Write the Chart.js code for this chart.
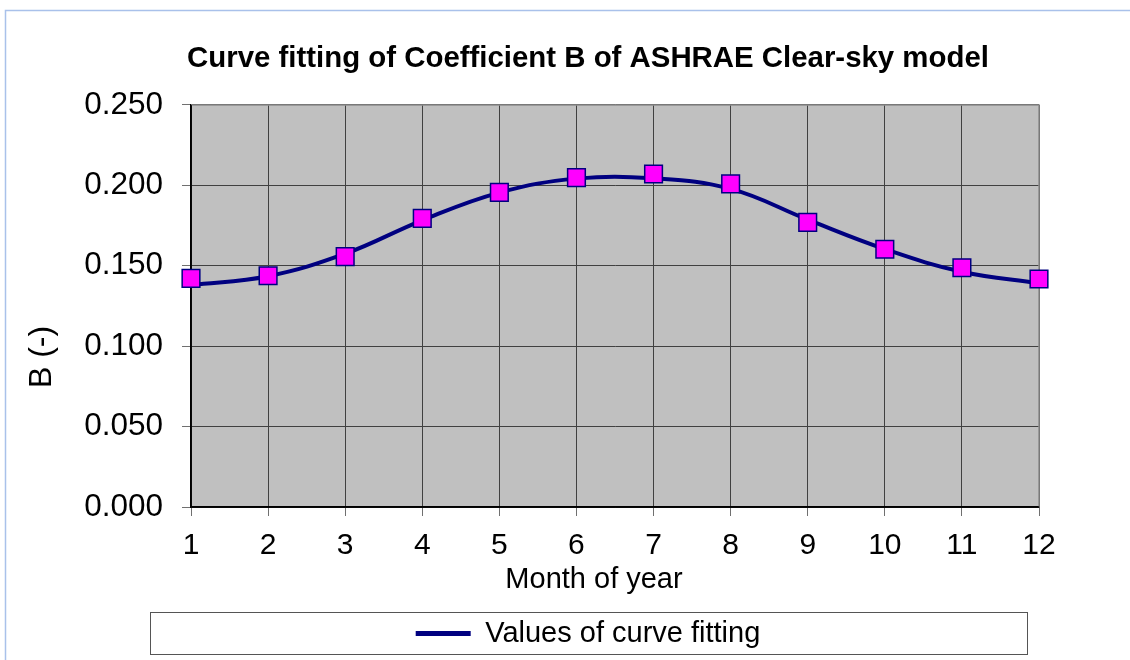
<!DOCTYPE html>
<html>
<head>
<meta charset="utf-8">
<script src="https://cdn.jsdelivr.net/npm/chart.js@4.4.1/dist/chart.umd.min.js"></script>
<style>
  html, body { margin: 0; padding: 0; background: #ffffff; }
  #wrap { width: 1130px; height: 660px; }
</style>
</head>
<body>
<div id="wrap"><canvas id="c" width="1130" height="660"></canvas></div>
<script>
// ---- data ----
const monthLabels = ['1', '2', '3', '4', '5', '6', '7', '8', '9', '10', '11', '12'];
const curveValues = [0.1380, 0.1435, 0.1575, 0.1783, 0.1955, 0.2042, 0.2044, 0.1978, 0.1787, 0.1604, 0.1463, 0.1391];
const markerValues = [0.1422, 0.1438, 0.1557, 0.1795, 0.1957, 0.2048, 0.2071, 0.2009, 0.1770, 0.1603, 0.1488, 0.1418];
const yTickValues = [0, 0.05, 0.10, 0.15, 0.20, 0.25];

const chartTitle = 'Curve fitting of Coefficient B of ASHRAE Clear-sky model';
const xAxisTitle = 'Month of year';
const yAxisTitle = 'B (-)';
const curveName = 'Values of curve fitting';
const markerName = 'Coefficient B';

const FONT = '"Liberation Sans", Arial, Helvetica, sans-serif';

const decorPlugin = {
  id: 'decor',
  beforeDraw(chart) {
    const ctx = chart.ctx;
    const a = chart.chartArea;
    ctx.save();
    ctx.fillStyle = '#ffffff';
    ctx.fillRect(0, 0, chart.width, chart.height);
    // outer chart border (light blue)
    ctx.strokeStyle = '#a9c1ea';
    ctx.lineWidth = 1.5;
    ctx.strokeRect(5.5, 10.5, chart.width + 20, chart.height + 20);
    // plot background
    ctx.fillStyle = '#c0c0c0';
    ctx.fillRect(a.left, a.top, a.right - a.left, a.bottom - a.top);
    ctx.restore();
  },
  beforeDatasetsDraw(chart) {
    const ctx = chart.ctx;
    const a = chart.chartArea;
    ctx.save();
    ctx.strokeStyle = '#8c8c8c';
    ctx.lineWidth = 1.5;
    ctx.beginPath();
    ctx.moveTo(a.left, a.top);
    ctx.lineTo(a.right, a.top);
    ctx.lineTo(a.right, a.bottom);
    ctx.stroke();
    ctx.strokeStyle = '#000000';
    ctx.lineWidth = 1.5;
    ctx.beginPath();
    ctx.moveTo(a.left, a.top);
    ctx.lineTo(a.left, a.bottom);
    ctx.lineTo(a.right, a.bottom);
    ctx.stroke();
    ctx.restore();
  },
  afterDraw(chart) {
    const ctx = chart.ctx;
    ctx.save();
    // legend frame
    ctx.strokeStyle = '#555555';
    ctx.lineWidth = 1;
    ctx.strokeRect(150.5, 612.5, 877, 42);
    // axis titles
    ctx.fillStyle = '#000000';
    ctx.textAlign = 'center';
    ctx.textBaseline = 'middle';
    ctx.font = '29px ' + FONT;
    ctx.fillText(xAxisTitle, 594, 580);
    ctx.translate(42, 357);
    ctx.rotate(-Math.PI / 2);
    ctx.font = '32px ' + FONT;
    ctx.fillText(yAxisTitle, 0, 0);
    ctx.restore();
  }
};

new Chart(document.getElementById('c'), {
  type: 'line',
  data: {
    labels: monthLabels,
    datasets: [
      {
        label: markerName,
        data: markerValues,
        showLine: false,
        pointStyle: 'rect',
        pointRadius: 12.5,
        pointHoverRadius: 12.5,
        pointBackgroundColor: '#ff00ff',
        pointBorderColor: '#000080',
        pointBorderWidth: 1.5,
        borderColor: '#000080',
        backgroundColor: '#ff00ff',
        clip: false,
        order: 0
      },
      {
        label: curveName,
        data: curveValues,
        borderColor: '#000080',
        backgroundColor: '#000080',
        borderWidth: 4,
        pointRadius: 0,
        tension: 0.4,
        fill: false,
        order: 1
      }
    ]
  },
  options: {
    responsive: false,
    animation: false,
    events: [],
    layout: { padding: { left: 46, right: 0, top: 0, bottom: 2 } },
    plugins: {
      tooltip: { enabled: false },
      title: {
        display: true,
        text: chartTitle,
        color: '#000000',
        font: { family: FONT, size: 29.4, weight: 'bold', lineHeight: 1.2 },
        padding: { top: 41, bottom: 28.7 }
      },
      legend: {
        display: true,
        position: 'bottom',
        labels: {
          color: '#000000',
          font: { family: FONT, size: 29 },
          boxWidth: 55,
          boxHeight: 5,
          padding: 6,
          generateLabels: () => [{
            text: curveName,
            fillStyle: '#000080',
            strokeStyle: '#000080',
            lineWidth: 0,
            datasetIndex: 1,
            hidden: false
          }]
        }
      }
    },
    scales: {
      x: {
        type: 'category',
        offset: false,
        grid: { color: '#404040', lineWidth: 1, tickLength: 9, tickColor: '#707070', drawTicks: true },
        border: { display: true, color: '#000000', width: 1.5 },
        ticks: { color: '#000000', font: { family: FONT, size: 30 }, padding: 12, maxRotation: 0, autoSkip: false },
        afterFit: (s) => { s.height = 106; }
      },
      y: {
        min: 0,
        max: 0.25,
        afterBuildTicks: (s) => { s.ticks = yTickValues.map(v => ({ value: v })); },
        grid: { color: '#404040', lineWidth: 1, tickLength: 9, tickColor: '#707070' },
        border: { display: true, color: '#000000', width: 1.5 },
        ticks: { color: '#000000', font: { family: FONT, size: 31.5 }, padding: 19, callback: (v) => Number(v).toFixed(3) },
        afterFit: (s) => { s.width = 145; }
      },
      yRight: {
        position: 'right',
        display: true,
        grid: { display: false, drawTicks: false },
        border: { display: false },
        ticks: { display: false },
        afterFit: (s) => { s.width = 91; }
      }
    }
  },
  plugins: [decorPlugin]
});
</script>
</body>
</html>
